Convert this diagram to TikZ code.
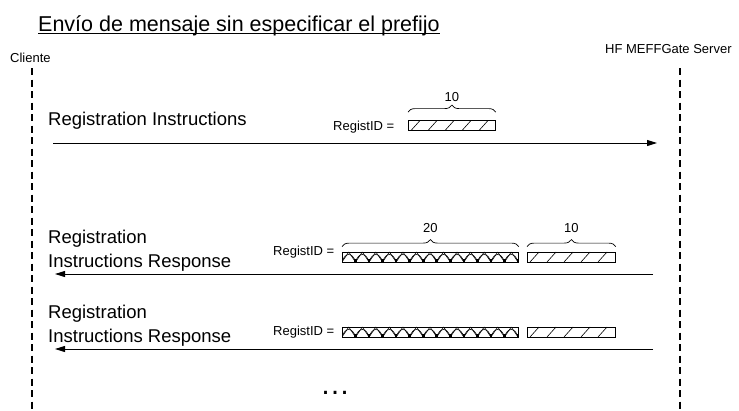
\documentclass[tikz,border=0pt]{standalone}
\usepackage{fontspec}
\setmainfont{Liberation Sans}
\usetikzlibrary{calc, positioning}
\usetikzlibrary{arrows.meta}
\usetikzlibrary{decorations.pathreplacing}

\newcommand{\hatchfield}[4]{%
  \node[field, minimum width=#4pt] (#1) at (#2,#3) {};
  \begin{scope}
    \clip (#1.south west) rectangle (#1.north east);
    \foreach \k in {0,...,4}
      \draw[line width=0.6pt] ({#2+3+17*\k},{#3+5}) -- ++(9,-10);
  \end{scope}}

\newcommand{\crossfield}[4]{%
  \node[field, minimum width=#4pt] (#1) at (#2,#3) {};
  \begin{scope}
    \clip (#1.south west) rectangle (#1.north east);
    \foreach \k in {0,...,13} {
      \pgfmathsetmacro{\xa}{#2+13.54*\k}
      \draw[line width=0.6pt] (\xa,{#3+5}) .. controls +(3,-10) and +(-3,-10) .. +(13.54,0);
      \draw[line width=0.6pt] (\xa,{#3+5}) -- +(-6.77,-10) (\xa,{#3+5}) -- +(6.77,-10);
      \fill ({\xa-1.3},{#3+5}) rectangle +(2.6,-2.6);
    }
  \end{scope}}

\begin{document}
\begin{tikzpicture}[x=1pt, y=-1pt,
  lifeline/.style={line width=1.6pt, dash pattern=on 7pt off 4.5pt},
  msg/.style={line width=0.9pt, -{Triangle[length=10pt, width=6pt]}},
  big/.style={font=\fontsize{18.5}{22}\selectfont, inner sep=0, anchor=base west},
  small/.style={font=\fontsize{13}{15}\selectfont, inner sep=0, anchor=base west},
  field/.style={draw, line width=0.8pt, inner sep=0, minimum height=10pt, anchor=west},
  sizebrace/.style={decorate, decoration={brace, amplitude=7pt}, line width=0.7pt},
  count/.style={font=\fontsize{13}{15}\selectfont, inner sep=0, midway}]

\useasboundingbox (0,0) rectangle (739,410);

\node[font=\fontsize{21.5}{25}\selectfont, inner sep=0, anchor=base west] (title) at (38,31) {Envío de mensaje sin especificar el prefijo};
\draw[line width=1pt] ([yshift=-2.5pt]title.base west) -- ([yshift=-2.5pt]title.base east);

\node[small] (cli) at (10,62) {Cliente};
\node[small] (srv) at (605,53) {HF MEFFGate Server};

\coordinate (cliTop) at (32,68);
\coordinate (cliBot) at (32,410);
\coordinate (srvTop) at (680,68);
\coordinate (srvBot) at (680,410);
\draw[lifeline] (cliTop) -- (cliBot);
\draw[lifeline] (srvTop) -- (srvBot);

\coordinate (c1) at (53,143);
\coordinate (s1) at (657,143);
\draw[msg] (c1) -- (s1);
\node[big] (m1) at (48,125) {Registration Instructions};
\node[small] (id1) at (333,130) {RegistID =};
\hatchfield{f1}{408}{125.5}{87}
\draw[sizebrace] ([yshift=8pt]f1.north west) -- ([yshift=8pt]f1.north east)
  node[count, above=10pt] (n1) {10};

\coordinate (s2) at (653,274);
\coordinate (c2) at (55,274);
\draw[msg] (s2) -- (c2);
\node[big] (m2a) at (48,243) {Registration};
\node[big] (m2b) at (48,267) {Instructions Response};
\node[small] (id2) at (273,255) {RegistID =};
\crossfield{x2}{342}{257}{176}
\hatchfield{f2}{527}{257}{88}
\draw[sizebrace] ([yshift=5pt]x2.north west) -- ([yshift=5pt]x2.north east)
  node[count, above=14pt] (n2) {20};
\draw[sizebrace] ([yshift=5pt]f2.north west) -- ([yshift=5pt]f2.north east)
  node[count, above=14pt] (n3) {10};

\coordinate (s3) at (653,349);
\coordinate (c3) at (55,349);
\draw[msg] (s3) -- (c3);
\node[big] (m3a) at (48,318) {Registration};
\node[big] (m3b) at (48,342) {Instructions Response};
\node[small] (id3) at (273,335) {RegistID =};
\crossfield{x3}{342}{332}{176}
\hatchfield{f3}{527}{332}{88}

\node[font=\fontsize{30}{30}\selectfont, inner sep=0, anchor=base] (more) at (335,394) {…};
\end{tikzpicture}
\end{document}
